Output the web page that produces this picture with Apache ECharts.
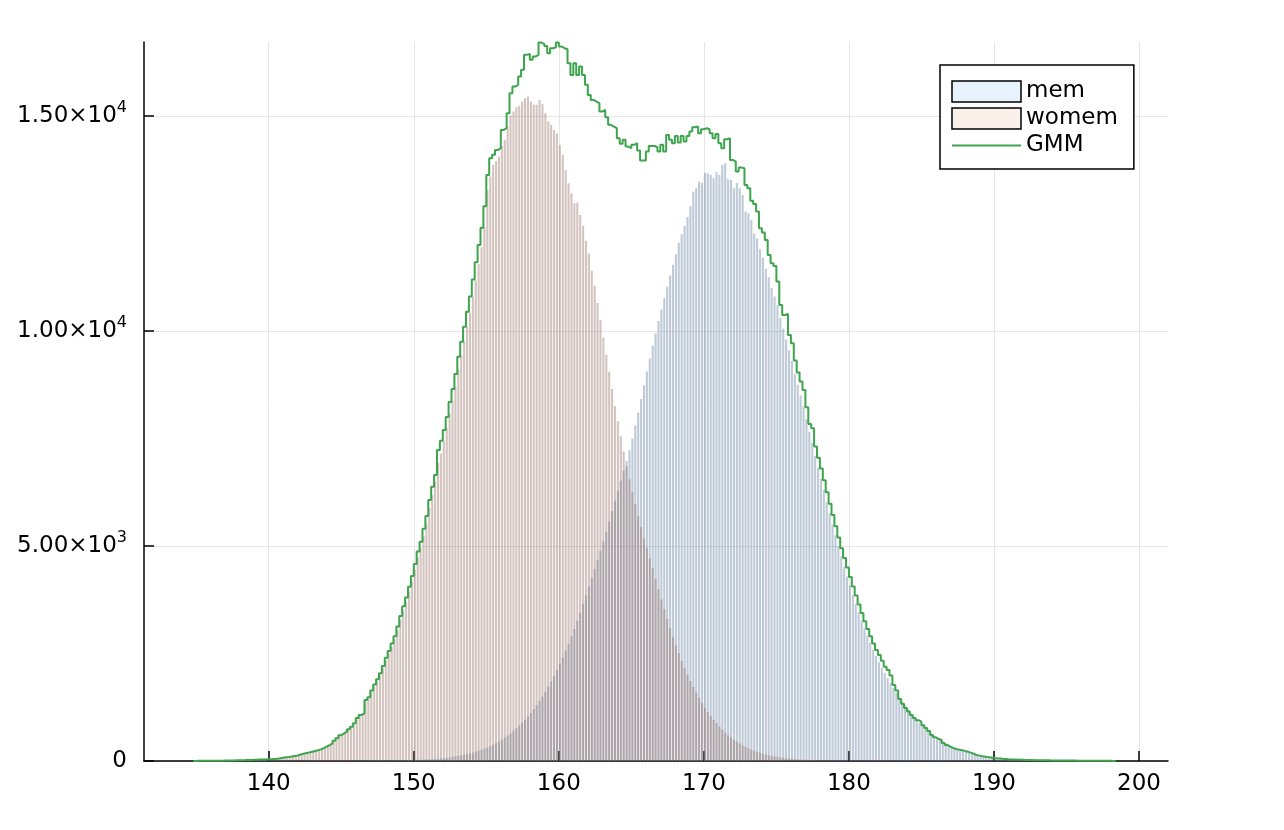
<!DOCTYPE html>
<html><head><meta charset="utf-8">
<script src="https://cdn.jsdelivr.net/npm/echarts@6/dist/echarts.min.js"></script>
<style>html,body{margin:0;padding:0;background:#fff}#c{width:1284px;height:830px}</style>
</head><body><div id="c"></div>
<script>
const binStart = 134.8;
const binWidth = 0.2;
const xTicks = [140, 150, 160, 170, 180, 190, 200];
const yTicks = [0, 5000, 10000, 15000];
const yTickMantissa = ['0', '5.00×10', '1.00×10', '1.50×10'];
const yTickExponent = ['', '3', '4', '4'];
const seriesNames = ['mem', 'womem', 'GMM'];

const mem = [
0,0,0,0,0,0,0,0,0,0,0,0,0,0,0,0,0,0,0,0,0,0,0,0,0,0,
0,0,0,0,0,0,0,0,0,0,0,0,0,0,0,0,0,0,0,0,0,0,0,0,0,
0,0,0,0,1,1,1,2,2,2,3,3,4,4,5,6,7,8,9,10,12,13,15,17,19,
22,25,28,31,35,39,44,49,55,61,68,76,85,95,107,120,133,147,162,178,195,215,238,262,288,
316,345,380,415,455,500,545,590,640,700,760,820,890,960,1040,1120,1210,1300,1400,1500,1610,1730,1850,1980,2120,
2260,2410,2570,2730,2900,3070,3260,3450,3650,3850,4060,4260,4470,4680,4890,5100,5330,5570,5810,6050,6290,6520,6750,6980,7230,
7500,7800,8100,8420,8740,9060,9360,9660,9950,10230,10500,10770,11030,11290,11540,11780,12050,12250,12450,12650,12900,13240,13320,13470,13440,
13680,13670,13630,13550,13690,13630,13860,13900,13530,13510,13320,13440,13320,13160,12780,12740,12580,12270,12150,11900,11700,11450,11250,11000,10800,
10600,10300,10050,9800,9550,9300,9000,8750,8500,8250,7950,7650,7400,7100,6820,6560,6300,6020,5760,5500,5250,5000,4760,4520,4290,
4080,3860,3660,3460,3270,3090,2920,2750,2590,2440,2300,2170,2050,1930,1810,1700,1590,1480,1380,1290,1200,1110,1030,955,885,
820,755,695,640,590,540,495,455,415,380,345,315,285,260,235,213,193,175,158,142,128,115,103,92,83,
74,66,59,52,46,41,36,32,28,25,22,19,17,15,13,11,10,9,8,7,6,5,5,4,4,
3,3,3,2,2,2,2,1,1,1,1,1,1,1,1,1,0
];

const womem = [
1,0,2,2,3,3,4,4,5,5,6,7,8,9,10,12,13,15,17,19,21,23,26,29,32,35,
38,45,52,58,70,80,88,100,110,122,143,162,178,192,208,222,240,260,288,320,355,395,450,505,575,
620,660,715,775,850,970,1040,1080,1380,1450,1600,1740,1860,2000,2160,2340,2500,2660,2830,3050,3280,3500,3700,3940,4180,
4450,4730,4950,5230,5520,5880,6180,6500,6950,7150,7450,7740,8080,8370,8700,9100,9430,9760,10100,10430,10800,11180,11560,11950,12420,
13281,13591,13863,13950,14050,14300,14450,14755,15003,15104,15204,15235,15336,15414,15452,15336,15259,15259,15375,15282,15065,14871,14794,14677,14600,
14328,14096,13747,13437,13204,12971,12987,12700,12450,12100,11800,11400,11050,10650,10250,9850,9450,9050,8650,8250,7900,7550,7200,6850,6550,
6250,5970,5700,5440,5180,4950,4720,4480,4240,4000,3760,3530,3300,3090,2880,2690,2510,2330,2170,2010,1860,1720,1590,1470,1350,
1240,1140,1050,960,880,800,730,660,600,545,495,450,405,365,330,296,265,238,212,190,170,152,135,120,107,
95,84,75,66,58,51,45,40,35,31,27,23,20,18,15,13,11,10,8,7,6,5,4,4,3,
3,2,2,2,1,1,1
];

const gmm = [
2,3,3,4,4,5,6,6,7,8,9,10,12,13,15,17,19,21,24,26,28,30,33,35,37,39,
40,48,55,62,75,85,92,104,116,128,150,170,185,200,217,232,250,271,300,333,370,411,470,527,600,
643,682,740,798,876,1000,1070,1109,1419,1480,1640,1780,1900,2040,2210,2400,2560,2730,2900,3130,3370,3600,3800,4050,4300,
4580,4870,5100,5400,5700,6070,6380,6650,7230,7450,7700,8000,8350,8650,9000,9400,9750,10100,10450,10800,11200,11600,12000,12400,12900,
13630,14018,14096,14212,14250,14677,14716,15065,15530,15685,15724,15918,16073,16422,16445,16306,16383,16422,16708,16677,16630,16460,16577,16600,16710,
16615,16577,16553,16228,15956,16228,15956,16150,15956,15724,15491,15375,15336,15297,15104,15142,14972,14794,14755,14716,14484,14352,14445,14289,14251,
14329,14367,14197,13963,13963,14174,14305,14305,14274,14174,14329,14174,14561,14445,14367,14537,14382,14537,14406,14537,14639,14740,14755,14600,14693,
14716,14693,14600,14484,14584,14367,14251,14460,14484,13979,13940,13708,13800,13785,13398,13320,13030,12956,12778,12390,12289,12118,11770,11576,11514,
11149,10607,10374,10397,9909,9715,9312,9033,8824,8630,8227,7839,7738,7312,7050,6800,6530,6250,5980,5720,5460,5200,4950,4720,4500,
4280,4060,3850,3640,3440,3250,3070,2900,2730,2580,2466,2330,2194,2117,1990,1768,1640,1442,1330,1233,1150,1070,1000,950,915,
830,767,700,605,550,510,488,420,370,333,300,280,265,250,235,217,195,170,140,125,110,100,90,80,70,
62,56,50,45,40,37,35,32,30,28,26,24,22,20,19,18,17,16,15,14,13,12,12,11,10,
10,9,9,8,8,7,7,6,6,5,5,4,4,3,3,2,2
];

const FONT = 'DejaVu Sans';
const edge = i => +(binStart + i * binWidth).toFixed(2);
const toBars = arr => arr.map((v, i) => [edge(i), edge(i + 1), v]);
const gmmData = gmm.map((v, i) => [edge(i), v]);
gmmData.push([edge(gmm.length), gmm[gmm.length - 1]]);

function barRenderer(fill) {
  return function (params, api) {
    const a = api.coord([api.value(0), api.value(2)]);
    const b = api.coord([api.value(1), 0]);
    return {
      type: 'rect',
      shape: { x: a[0], y: a[1], width: Math.max(b[0] - a[0] - 0.8, 0.5), height: b[1] - a[1] },
      style: { fill: fill }
    };
  };
}

const chart = echarts.init(document.getElementById('c'), null, { renderer: 'canvas' });
chart.setOption({
  animation: false,
  backgroundColor: '#ffffff',
  textStyle: { fontFamily: FONT },
  grid: { left: 144, right: 116, top: 42, bottom: 69 },
  legend: {
    orient: 'vertical',
    left: 940, top: 65,
    padding: [15, 16, 12, 11],
    itemWidth: 69, itemHeight: 21, itemGap: 4,
    backgroundColor: '#ffffff',
    borderColor: '#000000', borderWidth: 1.5, borderRadius: 0,
    textStyle: { fontFamily: FONT, fontSize: 23, color: '#000' },
    data: [
      { name: seriesNames[0], icon: 'rect', itemStyle: { color: '#e7f2fd', borderColor: '#000', borderWidth: 1.5 } },
      { name: seriesNames[1], icon: 'rect', itemStyle: { color: '#fcf0eb', borderColor: '#000', borderWidth: 1.5 } },
      { name: seriesNames[2], itemStyle: { opacity: 0 } }
    ]
  },
  xAxis: {
    type: 'value', min: 131.4, max: 202,
    axisLine: { show: true, onZero: false, lineStyle: { color: '#000', width: 1.5 } },
    axisTick: { show: true, inside: true, length: 10, customValues: xTicks, lineStyle: { color: '#000', width: 1.5 } },
    axisLabel: { customValues: xTicks, fontFamily: FONT, fontSize: 23, color: '#000', margin: 12 },
    splitLine: { show: true, lineStyle: { color: '#e6e6e6', width: 1 } }
  },
  yAxis: {
    type: 'value', min: 0, max: 16721,
    axisLine: { show: true, lineStyle: { color: '#000', width: 1.5 } },
    axisTick: { show: true, inside: true, length: 10, customValues: yTicks, lineStyle: { color: '#000', width: 1.5 } },
    axisLabel: {
      customValues: yTicks, margin: 17, color: '#000',
      formatter: function (v) {
        const k = yTicks.indexOf(v);
        if (k < 0) return '';
        if (!yTickExponent[k]) return '{m|' + yTickMantissa[k] + '}';
        return '{m|' + yTickMantissa[k] + '}{s|' + yTickExponent[k] + '}';
      },
      rich: {
        m: { fontFamily: FONT, fontSize: 23, color: '#000' },
        s: { fontFamily: FONT, fontSize: 16, color: '#000', padding: [0, 0, 17, 0] }
      }
    },
    splitLine: { show: true, lineStyle: { color: '#e6e6e6', width: 1 } }
  },
  series: [
    {
      name: seriesNames[0], type: 'custom', renderItem: barRenderer('rgba(110,135,165,0.44)'),
      encode: { x: [0, 1], y: 2 }, data: toBars(mem), itemStyle: { color: '#e7f2fd' }, z: 2
    },
    {
      name: seriesNames[1], type: 'custom', renderItem: barRenderer('rgba(150,115,105,0.42)'),
      encode: { x: [0, 1], y: 2 }, data: toBars(womem), itemStyle: { color: '#fcf0eb' }, z: 3
    },
    {
      name: seriesNames[2], type: 'line', step: 'end', symbol: 'none', showSymbol: false,
      data: gmmData, lineStyle: { color: '#3ea44e', width: 2 }, itemStyle: { color: '#3ea44e' }, z: 4,
      clip: false
    }
  ]
});
</script>
</body></html>
